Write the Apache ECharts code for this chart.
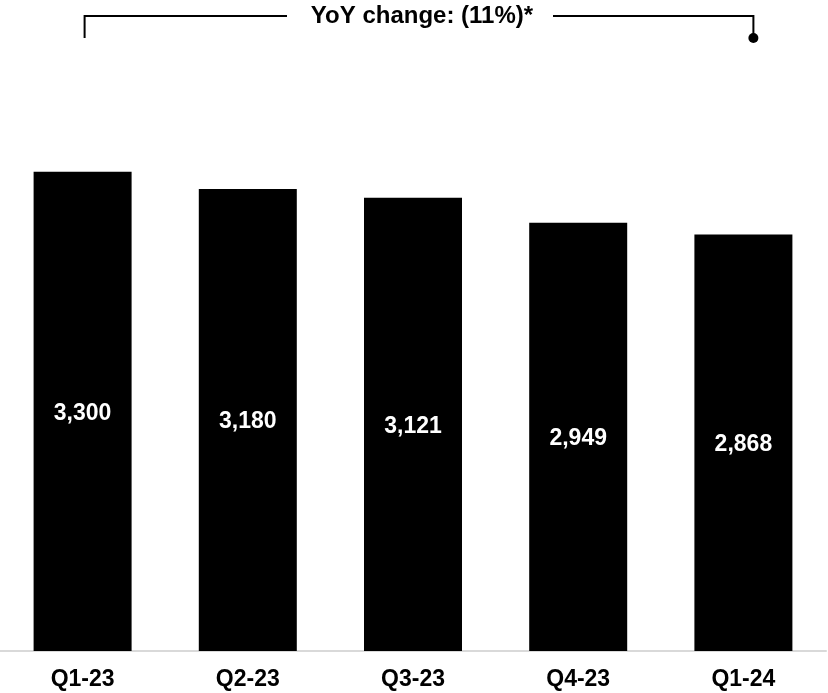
<!DOCTYPE html>
<html>
<head>
<meta charset="utf-8">
<title>Quarterly volume</title>
<script src="https://cdn.jsdelivr.net/npm/echarts@6/dist/echarts.min.js"></script>
<style>
  html, body { margin: 0; padding: 0; background: #ffffff; }
  #chart { width: 828px; height: 693px; }
</style>
</head>
<body>
<div id="chart"></div>
<script>
// Quarter labels along the x axis
const quarters = ['Q1-23', 'Q2-23', 'Q3-23', 'Q4-23', 'Q1-24'];
// Value for each quarter
const values = [3300, 3180, 3121, 2949, 2868];
// Headline shown above the bars
const headline = 'YoY change: (11%)*';

const FONT = 'Arial, "Liberation Sans", sans-serif';

const chart = echarts.init(document.getElementById('chart'), null, { renderer: 'canvas' });

chart.setOption({
  animation: false,
  backgroundColor: '#ffffff',
  grid: { left: 0, right: 2, top: 70, bottom: 42, containLabel: false },
  xAxis: {
    type: 'category',
    data: quarters,
    axisLine: { show: true, lineStyle: { color: '#d9d9d9', width: 2 } },
    axisTick: { show: false },
    axisLabel: {
      color: '#000000',
      fontFamily: FONT,
      fontWeight: 'bold',
      fontSize: 23,
      margin: 17
    }
  },
  yAxis: {
    type: 'value',
    min: 0,
    max: 4000,
    show: false,
    splitLine: { show: false }
  },
  series: [{
    type: 'bar',
    data: values,
    barWidth: 98,
    itemStyle: { color: '#000000' },
    label: {
      show: true,
      position: 'inside',
      offset: [0, 2],
      color: '#ffffff',
      fontFamily: FONT,
      fontWeight: 'bold',
      fontSize: 23,
      formatter: p => p.value.toLocaleString('en-US')
    }
  }]
});

// Bracket spanning first to last quarter, with the headline in its gap
function drawBracket() {
  const x0 = chart.convertToPixel({ xAxisIndex: 0 }, quarters[0]) + 2;
  const x1 = chart.convertToPixel({ xAxisIndex: 0 }, quarters[quarters.length - 1]) + 10;
  const yTop = 16, yEnd = 38;
  const textX = 422;
  const stroke = { stroke: '#000000', lineWidth: 2 };
  chart.setOption({
    graphic: [
      { type: 'polyline', shape: { points: [[x0, yEnd], [x0, yTop], [textX - 135, yTop]] }, style: stroke },
      { type: 'polyline', shape: { points: [[textX + 131, yTop], [x1, yTop], [x1, yEnd]] }, style: stroke },
      { type: 'circle', shape: { cx: x1, cy: yEnd, r: 5 }, style: { fill: '#000000' } },
      {
        type: 'text', x: textX, y: yTop,
        style: {
          text: headline, fill: '#000000', font: 'bold 24px ' + FONT,
          textAlign: 'center', textVerticalAlign: 'middle'
        }
      }
    ]
  });
}
drawBracket();
</script>
</body>
</html>
